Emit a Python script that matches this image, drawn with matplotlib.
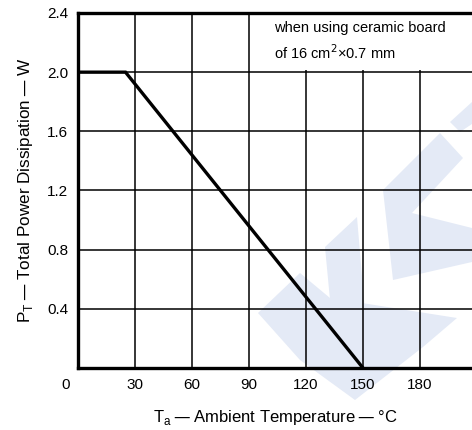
import matplotlib
matplotlib.use("Agg")
import matplotlib.pyplot as plt
from matplotlib.patches import Polygon, Rectangle

plt.rcParams['font.family'] = ['Liberation Sans', 'DejaVu Sans']

# derating curve (Ta in degC, PT in W)
ta = [0, 25, 150]
pt = [2.0, 2.0, 0.0]

x_ticks = [30, 60, 90, 120, 150, 180]
y_ticks = [0.4, 0.8, 1.2, 1.6, 2.0, 2.4]
note = "when using ceramic board\nof 16 cm$^{2}$\u00d70.7 mm"

W, H = 472, 430
fig = plt.figure(figsize=(W / 100, H / 100), dpi=100)

# pale logo watermark behind the chart (pixel coords -> figure fraction)
def px(pts):
    return [(x / W, 1 - y / H) for x, y in pts]

wm = "#e4eaf6"
shapes = [
    [(383, 190), (440, 133), (463, 158), (412, 213), (472, 228), (472, 262), (393, 280)],
    [(450, 122), (472, 102), (472, 124), (460, 132)],
    [(258, 313), (300, 273), (330, 298), (457, 318), (423, 347), (355, 400), (300, 360)],
    [(325, 247), (357, 217), (365, 312), (330, 300)],
]
for s in shapes:
    fig.patches.append(Polygon(px(s), closed=True, transform=fig.transFigure,
                               facecolor=wm, edgecolor="none", zorder=-5))

ax = fig.add_axes([78 / W, 1 - 368 / H, 1 - 78 / W, (368 - 13) / H])
ax.patch.set_alpha(0)
ax.set_zorder(2)

ax.set_xlim(0, (W - 78) / 1.9)
ax.set_ylim(0, 2.4)

ax.set_xticks(x_ticks)
ax.set_yticks(y_ticks)
ax.set_yticklabels([f"{v:.1f}" for v in y_ticks])
ax.tick_params(length=0, labelsize=11, pad=7)
ax.grid(True, color="black", linewidth=1.1)
ax.set_axisbelow(True)

for side in ["left", "bottom", "top"]:
    ax.spines[side].set_linewidth(2.4)
ax.spines["right"].set_visible(False)

# note box hides grid in upper right
ax.add_patch(Rectangle((98, 2.015), 120, 0.385, facecolor="white", edgecolor="none", zorder=2))
ax.text(103, 2.345, note, fontsize=10.5, va="top", ha="left", linespacing=1.55, zorder=3)

ax.plot(ta, pt, color="black", linewidth=2.4, zorder=4, solid_joinstyle="miter")

ax.annotate("0", (0, 0), xytext=(-9, -7), textcoords="offset points",
            ha="center", va="top", fontsize=11)

sep = "\u2009\u2014\u2009"
ax.set_xlabel("T$_\\mathregular{a}$" + sep + "Ambient Temperature" + sep + "\u00b0C",
              fontsize=12, labelpad=12)
ax.set_ylabel("P$_\\mathregular{T}$" + sep + "Total Power Dissipation" + sep + "W",
              fontsize=12.3, labelpad=9)

fig.savefig("out.png", dpi=100)
